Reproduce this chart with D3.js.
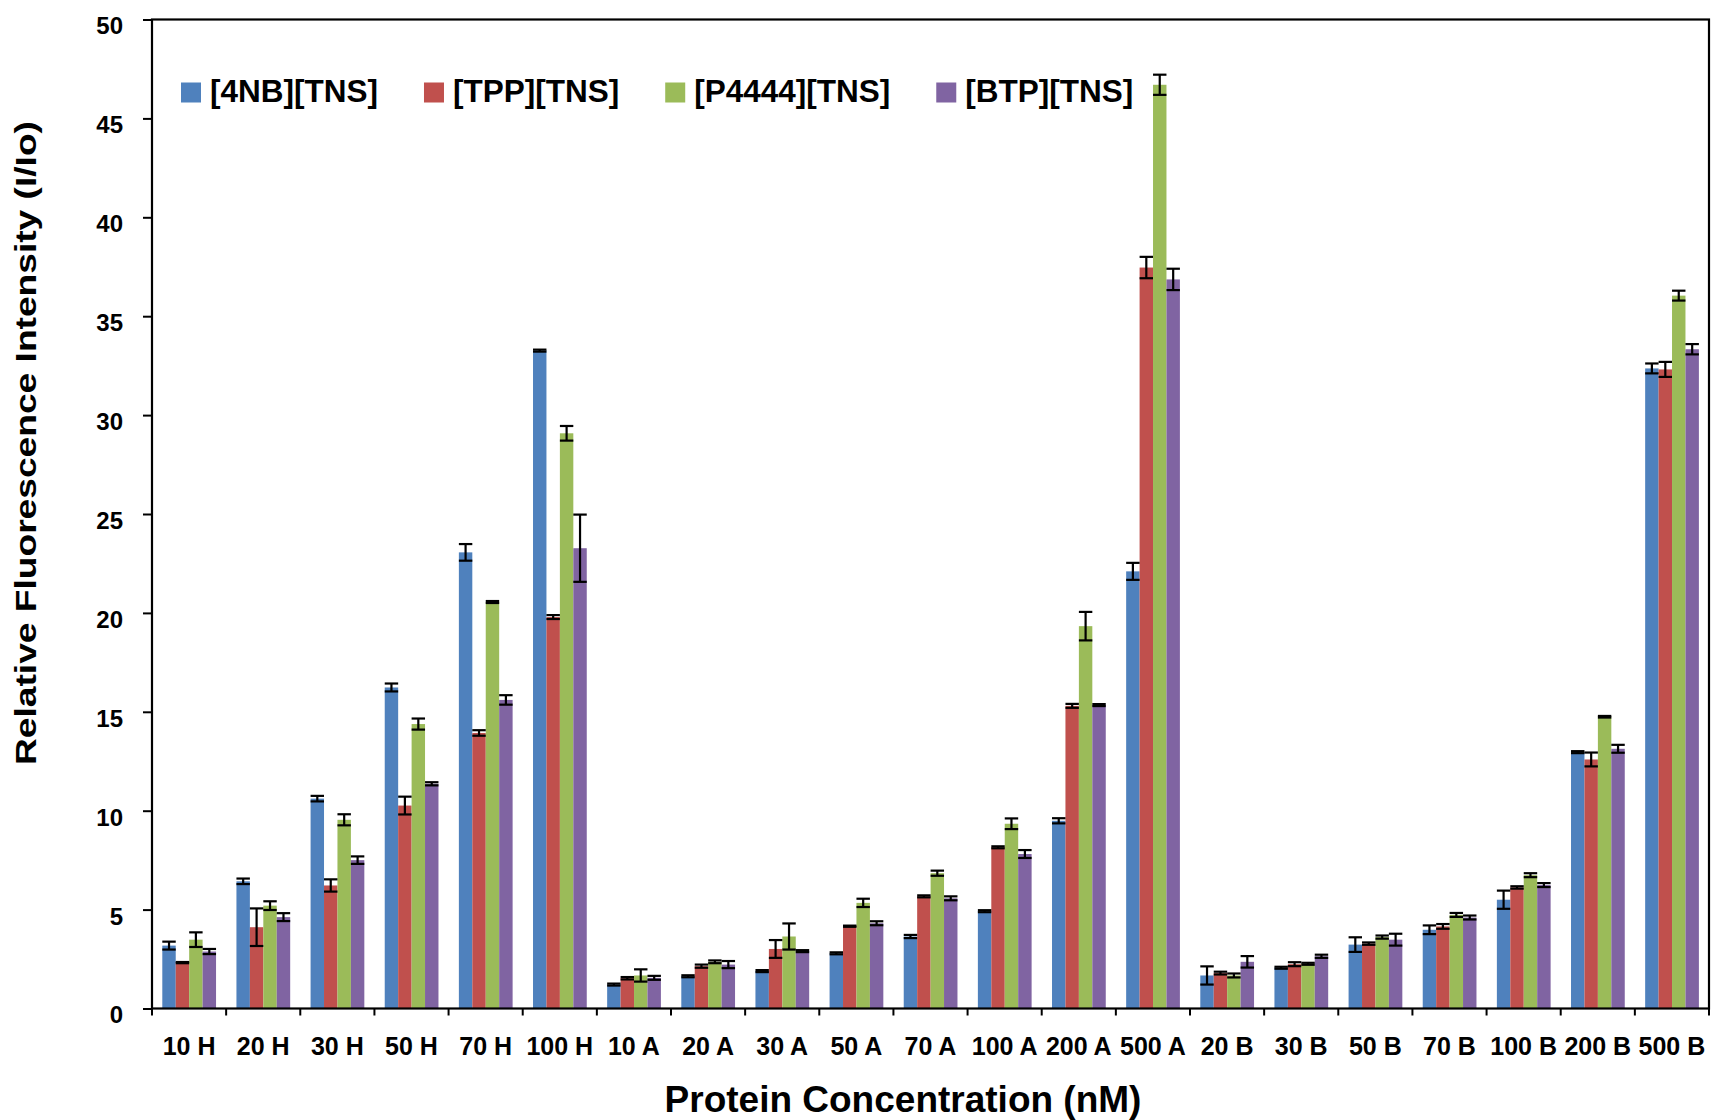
<!DOCTYPE html>
<html>
<head>
<meta charset="utf-8">
<script src="https://cdnjs.cloudflare.com/ajax/libs/d3/7.8.5/d3.min.js"></script>
<style>
	body { margin: 0; background: #fff; }
	text { font-family: "Liberation Sans", Arial, sans-serif; font-weight: bold; fill: #000; }
</style>
</head>
<body>
<div id="chart"></div>
<script>
var categories = ['10 H', '20 H', '30 H', '50 H', '70 H', '100 H', '10 A', '20 A', '30 A', '50 A', '70 A', '100 A', '200 A', '500 A', '20 B', '30 B', '50 B', '70 B', '100 B', '200 B', '500 B'];
var seriesNames = ['[4NB][TNS]', '[TPP][TNS]', '[P4444][TNS]', '[BTP][TNS]'];

var nb4 = [3.18, 6.43, 10.61, 16.23, 23.06, 33.26, 1.21, 1.63, 1.89, 2.79, 3.64, 4.92, 9.49, 22.1, 1.67, 2.06, 3.23, 3.98, 5.5, 12.96, 32.36];
var nb4Err = [0.2, 0.14, 0.14, 0.2, 0.42, 0.05, 0.05, 0.05, 0.05, 0.05, 0.08, 0.05, 0.13, 0.43, 0.46, 0.05, 0.37, 0.22, 0.46, 0.05, 0.25];

var tpp = [2.32, 4.11, 6.22, 10.26, 13.93, 19.79, 1.53, 2.14, 3.01, 4.16, 5.67, 8.15, 15.3, 37.46, 1.79, 2.24, 3.28, 4.15, 6.12, 12.59, 32.31];
var tppErr = [0.03, 0.95, 0.31, 0.45, 0.14, 0.1, 0.06, 0.08, 0.45, 0.03, 0.05, 0.05, 0.1, 0.54, 0.07, 0.1, 0.06, 0.12, 0.06, 0.35, 0.38];

var p4444 = [3.48, 5.2, 9.54, 14.38, 20.55, 29.08, 1.67, 2.36, 3.64, 5.34, 6.84, 9.34, 19.33, 46.7, 1.67, 2.26, 3.61, 4.73, 6.74, 14.75, 36.04];
var p4444Err = [0.37, 0.22, 0.28, 0.28, 0.05, 0.37, 0.31, 0.07, 0.66, 0.21, 0.13, 0.27, 0.72, 0.51, 0.1, 0.05, 0.08, 0.1, 0.1, 0.04, 0.25];

var btp = [2.88, 4.62, 7.5, 11.36, 15.6, 23.27, 1.55, 2.22, 2.9, 4.31, 5.57, 7.81, 15.34, 36.86, 2.36, 2.64, 3.48, 4.6, 6.24, 13.13, 33.33];
var btpErr = [0.13, 0.2, 0.19, 0.08, 0.24, 1.7, 0.1, 0.18, 0.05, 0.1, 0.1, 0.2, 0.05, 0.54, 0.29, 0.08, 0.3, 0.1, 0.1, 0.2, 0.26];

var yTicks = [0, 5, 10, 15, 20, 25, 30, 35, 40, 45, 50];

var values = [nb4, tpp, p4444, btp],
	errors = [nb4Err, tppErr, p4444Err, btpErr],
	colors = ['#4f81bd', '#c0504d', '#9bbb59', '#8064a2'];

var width = 1711,
	height = 1120,
	plotLeft = 152,
	plotRight = 1709,
	plotTop = 19.5,
	plotBottom = 1008.5;

var svg = d3.select('#chart').append('svg').attr('width', width).attr('height', height);

var x = d3.scaleBand().domain(categories).range([plotLeft, plotRight]).padding(0);
var inner = d3.scaleBand().domain(d3.range(seriesNames.length))
	.range([10.3, x.bandwidth() - 10.1]).padding(0);
var y = d3.scaleLinear().domain([0, 50]).range([plotBottom, plotTop]);

// bars
var groups = svg.append('g').selectAll('g')
	.data(categories)
	.enter().append('g')
	.attr('transform', function (d) { return 'translate(' + x(d) + ',0)'; });

groups.each(function (cat, i) {
	var g = d3.select(this);
	var rows = seriesNames.map(function (s, k) {
		return { k: k, v: values[k][i], e: errors[k][i] };
	});
	g.selectAll('rect')
		.data(rows)
		.enter().append('rect')
		.attr('x', function (d) { return inner(d.k); })
		.attr('y', function (d) { return y(d.v); })
		.attr('width', inner.bandwidth())
		.attr('height', function (d) { return y(0) - y(d.v); })
		.style('fill', function (d) { return colors[d.k]; });

	var err = g.selectAll('.err')
		.data(rows)
		.enter().append('g')
		.attr('class', 'err')
		.style('stroke', '#000')
		.style('stroke-width', 2.2);
	err.append('line')
		.attr('x1', function (d) { return inner(d.k) + inner.bandwidth() / 2; })
		.attr('x2', function (d) { return inner(d.k) + inner.bandwidth() / 2; })
		.attr('y1', function (d) { return y(d.v + d.e); })
		.attr('y2', function (d) { return y(d.v - d.e); });
	err.append('line')
		.attr('x1', function (d) { return inner(d.k); })
		.attr('x2', function (d) { return inner(d.k) + inner.bandwidth(); })
		.attr('y1', function (d) { return y(d.v + d.e); })
		.attr('y2', function (d) { return y(d.v + d.e); });
	err.append('line')
		.attr('x1', function (d) { return inner(d.k); })
		.attr('x2', function (d) { return inner(d.k) + inner.bandwidth(); })
		.attr('y1', function (d) { return y(d.v - d.e); })
		.attr('y2', function (d) { return y(d.v - d.e); });
});

// frame
svg.append('rect')
	.attr('x', plotLeft)
	.attr('y', plotTop)
	.attr('width', plotRight - plotLeft)
	.attr('height', plotBottom - plotTop)
	.style('fill', 'none')
	.style('stroke', '#000')
	.style('stroke-width', 2.2);

// y axis
var yAxis = svg.append('g')
	.attr('transform', 'translate(' + plotLeft + ',0)')
	.call(d3.axisLeft(y).tickValues(yTicks).tickSize(9).tickPadding(20));
yAxis.select('.domain').remove();
yAxis.selectAll('line').style('stroke', '#000').style('stroke-width', 2);
yAxis.selectAll('text')
	.attr('dy', '0.6em')
	.style('font-size', '24px')
	.style('font-family', '"Liberation Sans", Arial, sans-serif');

// x axis ticks at band edges
svg.append('g').selectAll('line')
	.data(d3.range(categories.length + 1))
	.enter().append('line')
	.attr('x1', function (d) { return plotLeft + d * x.step(); })
	.attr('x2', function (d) { return plotLeft + d * x.step(); })
	.attr('y1', plotBottom)
	.attr('y2', plotBottom + 7)
	.style('stroke', '#000')
	.style('stroke-width', 2);

svg.append('g').selectAll('text')
	.data(categories)
	.enter().append('text')
	.attr('x', function (d) { return x(d) + x.bandwidth() / 2; })
	.attr('y', 1055)
	.attr('text-anchor', 'middle')
	.style('font-size', '25px')
	.text(function (d) { return d; });

// axis titles
svg.append('text')
	.attr('transform', 'translate(36,443) rotate(-90)')
	.attr('text-anchor', 'middle')
	.attr('textLength', 644)
	.attr('lengthAdjust', 'spacingAndGlyphs')
	.style('font-size', '29px')
	.text('Relative Fluorescence Intensity (I/Io)');

svg.append('text')
	.attr('x', 903)
	.attr('y', 1112)
	.attr('text-anchor', 'middle')
	.style('font-size', '37px')
	.text('Protein Concentration (nM)');

// legend
var legend = svg.append('g');
var lx = 181;
seriesNames.forEach(function (name, k) {
	legend.append('rect')
		.attr('x', lx)
		.attr('y', 82.5)
		.attr('width', 20)
		.attr('height', 20)
		.style('fill', colors[k]);
	var t = legend.append('text')
		.attr('x', lx + 29)
		.attr('y', 101.5)
		.style('font-size', '31.5px')
		.text(name);
	lx = lx + 29 + t.node().getComputedTextLength() + 46;
});
</script>
</body>
</html>
